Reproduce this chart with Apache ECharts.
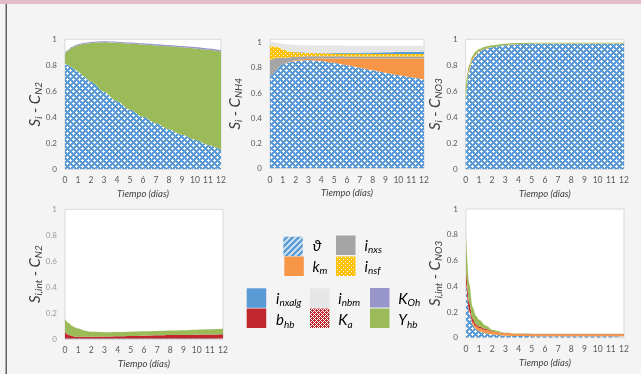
<!DOCTYPE html>
<html><head><meta charset="utf-8">
<script src="https://cdn.jsdelivr.net/npm/echarts@6/dist/echarts.min.js"></script>
<style>html,body{margin:0;padding:0;background:#f3f4f3}#c{width:641px;height:374px}</style>
</head><body><div id="c"></div><script>
// ---- data ----
const days = [0, 0.25, 0.5, 0.75, 1, 1.5, 2, 3, 4, 5, 6, 7, 8, 9, 10, 11, 12];
const xTicks = [0,1,2,3,4,5,6,7,8,9,10,11,12];
const yTicks = [0,0.2,0.4,0.6,0.8,1];

// Panel 1: S_i - C_N2
const p1_theta = [.815,.80,.785,.77,.752,.712,.673,.596,.522,.457,.402,.352,.305,.264,.225,.186,.148];
const p1_Yhb   = [.075,.114,.148,.175,.202,.253,.299,.381,.452,.510,.558,.601,.641,.674,.704,.733,.757];
const p1_KOh   = [.005,.006,.007,.008,.008,.008,.008,.008,.008,.008,.009,.009,.010,.010,.011,.011,.012];

// Panel 2: S_i - C_NH4
const p2_theta  = [.733,.75,.78,.81,.83,.845,.855,.86,.855,.84,.82,.80,.78,.76,.74,.725,.705];
const p2_km     = [0,0,0,0,0,.003,.008,.012,.02,.035,.055,.075,.095,.115,.135,.15,.17];
const p2_inxs   = [.13,.12,.10,.07,.05,.035,.025,.02,.018,.017,.016,.016,.015,.015,.015,.015,.015];
const p2_insf   = [.11,.10,.09,.08,.065,.045,.035,.025,.022,.02,.02,.02,.02,.02,.02,.02,.02];
const p2_inxalg = [0,0,0,0,0,0,.002,.003,.004,.005,.007,.009,.011,.013,.015,.017,.02];
const p2_inbm   = [.037,.035,.03,.035,.045,.057,.057,.06,.059,.06,.058,.056,.054,.052,.05,.048,.045];

// Panel 3: S_i - C_NO3
const p3_theta = [.50,.75,.835,.875,.905,.925,.938,.954,.962,.965,.966,.966,.966,.966,.966,.966,.966];
const p3_km    = [0,.02,.015,.01,.005,.003,.002,.001,.001,.001,.001,.001,.001,.001,.001,.001,.001];
const p3_Yhb   = [.12,.03,.02,.02,.015,.017,.015,.011,.008,.007,.007,.007,.007,.007,.007,.007,.007];

// Panel 4: S_i,int - C_N2
const p4_theta = [.004,.004,.004,.004,.004,.004,.004,.004,.004,.004,.004,.004,.004,.004,.004,.004,.004];
const p4_bhb   = [.05,.03,.02,.015,.013,.013,.014,.016,.018,.02,.022,.024,.026,.027,.029,.03,.032];
const p4_Yhb   = [.10,.091,.081,.071,.063,.047,.037,.032,.032,.032,.033,.034,.035,.037,.039,.041,.043];

// Panel 5: S_i,int - C_NO3
const p5_theta = [.435,.20,.10,.065,.05,.035,.025,.016,.013,.012,.012,.012,.012,.012,.012,.012,.012];
const p5_km    = [0,.01,.02,.025,.025,.025,.022,.018,.016,.015,.015,.015,.015,.015,.015,.015,.015];
const p5_bhb   = [.11,.06,.03,.015,.012,.008,.004,.002,.001,.001,.001,.001,.001,.001,.001,.001,.001];
const p5_Yhb   = [.255,.15,.09,.065,.053,.027,.011,.002,.002,.003,.002,.002,.002,.002,.002,.002,.002];

// ---- styling ----
function pat(size, bg, fg, fn) {
  const c = document.createElement('canvas'); c.width = c.height = size;
  const g = c.getContext('2d'); g.fillStyle = bg; g.fillRect(0,0,size,size); g.fillStyle = fg;
  for (let y=0;y<size;y++) for (let x=0;x<size;x++) if (fn(x,y)) g.fillRect(x,y,1,1);
  return { image: c, repeat: 'repeat' };
}
const plusSet = new Set();
[[1,1],[4,4]].forEach(([cx,cy]) => [[0,0],[1,0],[-1,0],[0,1],[0,-1]].forEach(([dx,dy]) => plusSet.add(((cx+dx+6)%6)+','+((cy+dy+6)%6))));
const C = {
  theta: pat(6, '#5b9bd5', '#ffffff', (x,y) => plusSet.has(x+','+y)),
  thetaLeg: pat(6, '#c5dcf0', '#5b9bd5', (x,y) => (x+y)%6 < 3),
  km: '#f79646', inxs: '#a5a5a5',
  insf: pat(4, '#ffc000', '#ffffff', (x,y) => (x===1&&y===1)||(x===3&&y===3)),
  inxalg: '#5b9bd5', inbm: '#e7e6e6', KOh: '#9795c9', bhb: '#c0282d',
  Ka: pat(4, '#c0282d', '#ffffff', (x,y) => (x+y)%4===0 || (x-y+8)%4===0),
  Yhb: '#9bbb59'
};
const FONT = 'Lato';
const grids = [
  { left: 65, top: 39.3, width: 156, height: 129.7 },
  { left: 270, top: 39.3, width: 154, height: 129 },
  { left: 465.7, top: 39.3, width: 158.3, height: 129.7 },
  { left: 65, top: 209.3, width: 158, height: 129.7 },
  { left: 466, top: 209, width: 158, height: 128.7 }
];
const yMax = [1, 1.027, 1, 1, 1];
const yNames = [
  ['i','N2'], ['i','NH4'], ['i','NO3'], ['i,int','N2'], ['i,int','NO3']
];
const nameGaps = [22, 27, 22.7, 22, 23];
const yLabelColors = ['#595959','#595959','#595959','#9a9a9a','#595959'];
const richName = {
  m: { fontFamily: FONT, fontSize: 15, fontStyle: 'italic', color: '#404040', lineHeight: 16 },
  s: { fontFamily: FONT, fontSize: 10, fontStyle: 'italic', color: '#404040', lineHeight: 16, padding: [7,0,0,0] }
};

const panels = [
  [['ϑ', p1_theta, C.theta], ['Y_hb', p1_Yhb, C.Yhb], ['K_Oh', p1_KOh, C.KOh]],
  [['ϑ', p2_theta, C.theta], ['k_m', p2_km, C.km], ['i_nxs', p2_inxs, C.inxs], ['i_nsf', p2_insf, C.insf], ['i_nxalg', p2_inxalg, C.inxalg], ['i_nbm', p2_inbm, C.inbm]],
  [['ϑ', p3_theta, C.theta], ['k_m', p3_km, C.km], ['Y_hb', p3_Yhb, C.Yhb]],
  [['ϑ', p4_theta, C.theta], ['b_hb', p4_bhb, C.bhb], ['Y_hb', p4_Yhb, C.Yhb]],
  [['ϑ', p5_theta, C.theta], ['k_m', p5_km, C.km], ['b_hb', p5_bhb, C.bhb], ['Y_hb', p5_Yhb, C.Yhb]]
];

const series = [];
panels.forEach((layers, pi) => {
  layers.forEach(([name, arr, color]) => {
    series.push({
      type: 'line', name, xAxisIndex: pi, yAxisIndex: pi, stack: 'p' + pi,
      // value first so the stacked dimension is the y value
      data: days.map((d, i) => [arr[i], d]),
      encode: { x: 1, y: 0 },
      symbol: 'none', showSymbol: false, smooth: 0.3, smoothMonotone: 'x',
      lineStyle: { width: 0 }, areaStyle: { color, opacity: 1 }, silent: true, animation: false
    });
  });
});

const xAxes = grids.map((g, i) => ({
  type: 'value', gridIndex: i, min: 0, max: 12, interval: 1,
  axisLine: { show: true, lineStyle: { color: '#d9d9d9' } }, axisTick: { show: false }, splitLine: { show: false },
  axisLabel: { fontFamily: FONT, fontSize: 8.5, color: '#595959', margin: 7 },
  name: 'Tiempo (días)', nameLocation: 'middle', nameGap: 20, nameMoveOverlap: false,
  nameTextStyle: { fontFamily: FONT, fontSize: 9.5, fontStyle: 'italic', color: '#404040' }
}));
const yAxes = grids.map((g, i) => ({
  type: 'value', gridIndex: i, min: 0, max: yMax[i], interval: 0.2,
  axisLine: { show: false }, axisTick: { show: false }, splitLine: { show: false },
  axisLabel: { fontFamily: FONT, fontSize: 8, color: yLabelColors[i], margin: 8, showMaxLabel: yMax[i] === 1 },
  name: `{m|S}{s|${yNames[i][0]}}{m| - C}{s|${yNames[i][1]}}`,
  nameLocation: 'middle', nameRotate: 90, nameGap: nameGaps[i], nameMoveOverlap: false,
  nameTextStyle: { rich: richName }
}));

// legend (drawn as graphic)
const legRich = {
  m: { fontFamily: FONT, fontSize: 15, fontStyle: 'italic', color: '#595959', lineHeight: 18 },
  s: { fontFamily: FONT, fontSize: 10, fontStyle: 'italic', color: '#595959', lineHeight: 18, padding: [8,0,0,0] }
};
const legendItems = [
  { fill: C.thetaLeg, x: 283.3, y: 236.7, tx: 312.5, ty: 246, text: '{m|ϑ}' },
  { fill: C.inxs, x: 336, y: 235.5, tx: 364.5, ty: 246, text: '{m|i}{s|nxs}' },
  { fill: C.km, x: 284.3, y: 256.5, tx: 312.5, ty: 267, text: '{m|k}{s|m}' },
  { fill: C.insf, x: 336, y: 256.5, tx: 364.5, ty: 267, text: '{m|i}{s|nsf}' },
  { fill: C.inxalg, x: 246.7, y: 288.3, tx: 276, ty: 299, text: '{m|i}{s|nxalg}' },
  { fill: C.inbm, x: 310, y: 288.3, tx: 338.3, ty: 299, text: '{m|i}{s|nbm}' },
  { fill: C.KOh, x: 370, y: 288, tx: 398.3, ty: 299, text: '{m|K}{s|Oh}' },
  { fill: C.bhb, x: 246.7, y: 308.5, tx: 276, ty: 320.5, text: '{m|b}{s|hb}' },
  { fill: C.Ka, x: 310, y: 308.5, tx: 338.3, ty: 320.5, text: '{m|K}{s|a}' },
  { fill: C.Yhb, x: 370, y: 308.5, tx: 398.3, ty: 320.5, text: '{m|Y}{s|hb}' }
];
const graphic = [
  { type: 'rect', shape: { x: 0, y: 0, width: 641, height: 4 }, style: { fill: '#e5bccb' }, silent: true },
  { type: 'rect', shape: { x: 5.5, y: 4, width: 1.5, height: 370 }, style: { fill: '#606060' }, silent: true }
];
legendItems.forEach(it => {
  graphic.push({ type: 'rect', shape: { x: it.x, y: it.y, width: 19.5, height: 19.5 }, style: { fill: it.fill }, silent: true });
  graphic.push({ type: 'text', x: it.tx, y: it.ty, style: { text: it.text, rich: legRich, verticalAlign: 'middle', align: 'left' }, silent: true });
});

const chart = echarts.init(document.getElementById('c'), null, { renderer: 'canvas' });
chart.setOption({
  backgroundColor: '#f3f4f3', animation: false,
  grid: grids.map(g => Object.assign({ show: true, borderColor: '#d9d9d9', borderWidth: 1, backgroundColor: '#ffffff' }, g)),
  xAxis: xAxes, yAxis: yAxes, series, graphic
});
</script></body></html>
